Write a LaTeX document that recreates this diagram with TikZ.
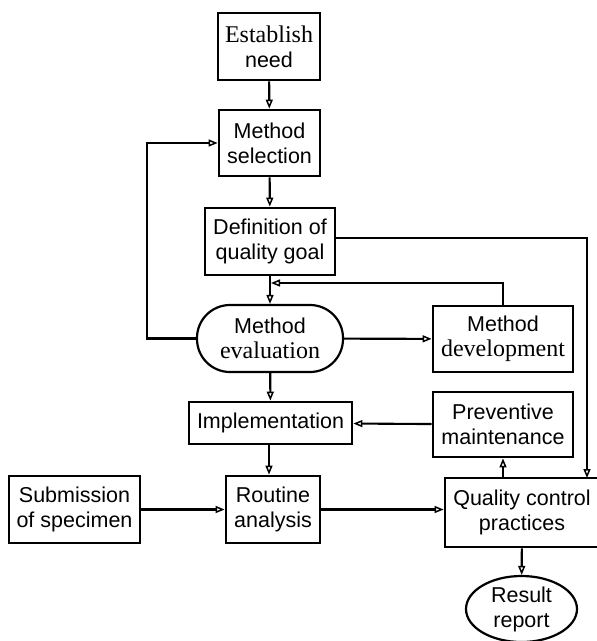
\documentclass[tikz,border=0pt]{standalone}
\usepackage{fontspec}
\setmainfont{Liberation Sans}
\newfontfamily\serifface{Liberation Serif}
\usetikzlibrary{arrows.meta,shapes.geometric}
\begin{document}
\begin{tikzpicture}[x=1pt,y=-1pt,
  box/.style={draw, line width=2.8pt, rectangle, inner sep=0pt, align=center,
    font=\fontsize{21.5}{25}\selectfont},
  stadium/.style={box, line width=2.2pt, rounded corners=33pt},
  oval/.style={draw, line width=2.2pt, ellipse, inner sep=0pt, align=center,
    font=\fontsize{21.5}{25}\selectfont},
  conn/.style={line width=2.1pt, -{Triangle[open,length=9pt,width=7pt,line width=1.5pt]}},
]
\useasboundingbox (0,0) rectangle (597,641);
\newcommand{\sr}[1]{{\serifface\fontsize{24}{25}\selectfont #1}}

\node[box, minimum width=102pt, minimum height=67pt] (need) at (269,46.5) {\sr{Establish}\\need};
\node[box, minimum width=101pt, minimum height=66pt] (sel) at (269.5,143) {Method\\selection};
\node[box, minimum width=130pt, minimum height=67pt] (def) at (270,241.5) {Definition of\\quality goal};
\node[stadium, minimum width=146pt, minimum height=67pt] (eval) at (270,338.5) {Method\\\sr{evaluation}};
\node[box, minimum width=140pt, minimum height=66pt] (dev) at (503,339) {Method\\\sr{development}};
\node[box, minimum width=163pt, minimum height=42pt] (impl) at (270.5,423) {Implementation};
\node[box, minimum width=140pt, minimum height=65pt] (prev) at (503,424.5) {Preventive\\maintenance};
\node[box, minimum width=131pt, minimum height=67pt] (sub) at (74.5,509.5) {Submission\\of specimen};
\node[box, minimum width=94pt, minimum height=67pt] (rout) at (273,509.5) {Routine\\analysis};
\node[box, minimum width=154pt, minimum height=69pt] (qc) at (522,512.5) {Quality control\\practices};
\node[oval, minimum width=111pt, minimum height=66pt] (res) at (521.5,609) {Result\\report};

\coordinate (fb) at (271,283);
\coordinate (lp) at (147,340);
\coordinate (qcin) at (587,478);

\draw[conn] (need) -- (sel);
\draw[conn] (sel) -- (def);
\draw[conn] (def) -- (eval);
\draw[conn] (eval.west) -- (eval.west -| lp) |- (sel.west);
\draw[conn] (eval) -- (dev);
\draw[conn] (dev.north) |- (fb);
\draw[conn] (def.east |- 0,238) -| (qcin);
\draw[conn] (eval) -- (impl);
\draw[conn] (prev) -- (impl);
\draw[conn] (impl.south -| 269,0) -- (rout.north -| 269,0);
\draw[conn] (sub) -- (rout);
\draw[conn] (rout.east) -- (rout.east -| qc.west);
\draw[conn] (qc.north -| prev.south) -- (prev.south);
\draw[conn] (qc) -- (res);
\end{tikzpicture}
\end{document}
